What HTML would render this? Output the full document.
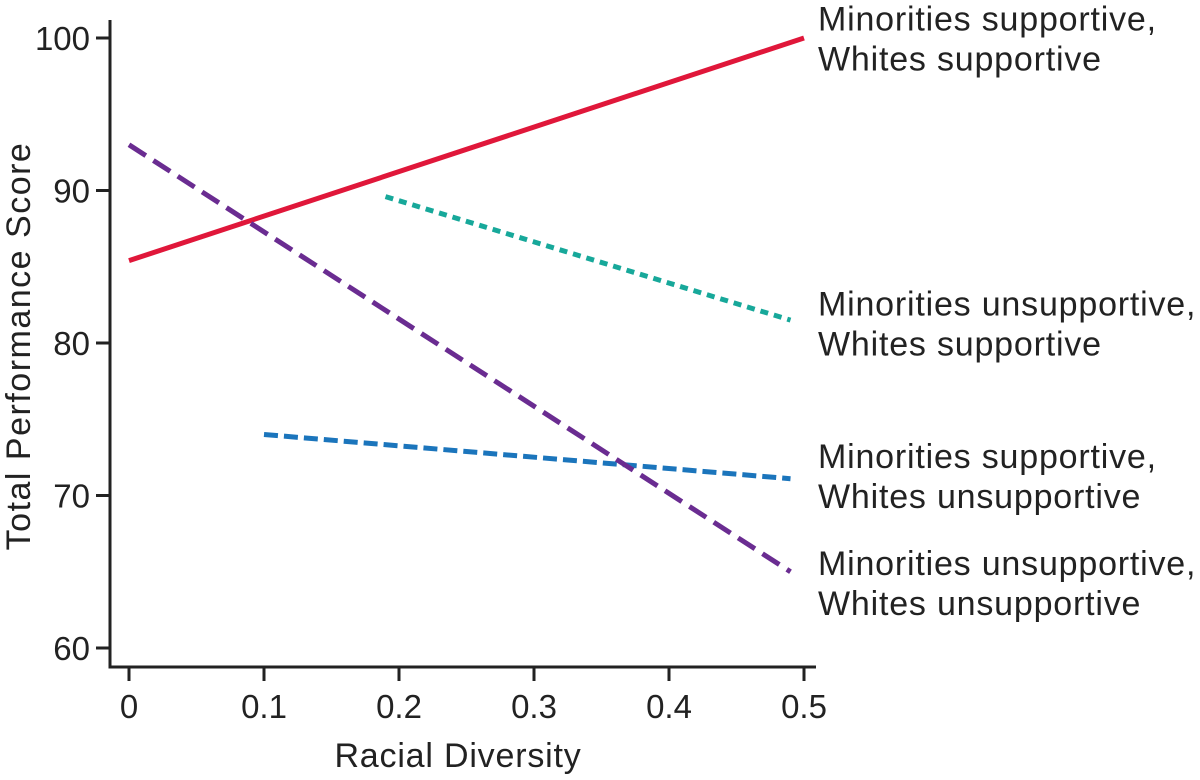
<!DOCTYPE html>
<html><head><meta charset="utf-8"><style>
html,body{margin:0;padding:0;background:#fff;}
svg text{font-family:"Liberation Sans",sans-serif;fill:#222;}
</style></head><body>
<svg id="chart" width="1200" height="775" viewBox="0 0 1200 775" xmlns="http://www.w3.org/2000/svg">
<g id="axes"></g><g id="series"></g><g id="labels"></g>
</svg>
<script>
const xTicks=[0,0.1,0.2,0.3,0.4,0.5];
const xTickLabels=["0","0.1","0.2","0.3","0.4","0.5"];
const yTicks=[60,70,80,90,100];
const yTickLabels=["60","70","80","90","100"];
const seriesNames=["ms-ws","mu-ws","ms-wu","mu-wu"];
const redX=[0,0.5], redY=[85.4,100];
const tealX=[0.19,0.49], tealY=[89.6,81.5];
const blueX=[0.1,0.49], blueY=[74,71.1];
const purpleX=[0,0.49], purpleY=[93,65];
const legendLines=[["Minorities supportive,","Whites supportive"],["Minorities unsupportive,","Whites supportive"],["Minorities supportive,","Whites unsupportive"],["Minorities unsupportive,","Whites unsupportive"]];
const legendY=[99.9,81.2,71.2,64.2];

const NS="http://www.w3.org/2000/svg";
const X=v=>129+v*1350;
const Y=v=>648-(v-60)*15.25;
function mk(tag,attrs,parent){const e=document.createElementNS(NS,tag);for(const k in attrs)e.setAttribute(k,attrs[k]);document.getElementById(parent).appendChild(e);return e;}
let e;
e=mk("line",{x1:110,y1:20,x2:110,y2:668,stroke:"#222","stroke-width":3},"axes");


e=mk("line",{x1:108.5,y1:667,x2:816,y2:667,stroke:"#222","stroke-width":3},"axes");


xTicks.forEach((t,i)=>{
 e=mk("line",{x1:X(t),y1:667,x2:X(t),y2:681,stroke:"#222","stroke-width":3},"axes");
 
 
 e=mk("text",{x:X(t),y:718,"font-size":33,"text-anchor":"middle"},"axes");e.textContent=xTickLabels[i];
 
 
});
yTicks.forEach((t,i)=>{
 e=mk("line",{x1:96,y1:Y(t),x2:110,y2:Y(t),stroke:"#222","stroke-width":3},"axes");
 
 
 e=mk("text",{x:90,y:Y(t)+12,"font-size":33,"text-anchor":"end"},"axes");e.textContent=yTickLabels[i];
 
 
});
e=mk("text",{x:458,y:767,"font-size":34,"letter-spacing":0.8,"text-anchor":"middle"},"axes");e.textContent="Racial Diversity";


e=mk("text",{x:0,y:0,"font-size":34,"letter-spacing":1.5,"text-anchor":"middle",transform:"translate(30,346) rotate(-90)"},"axes");e.textContent="Total Performance Score";


const series=[[redX,redY,"#e0173a",""],[tealX,tealY,"#17a89a","8 6"],[blueX,blueY,"#1b75bc","14 6"],[purpleX,purpleY,"#6a2c91","20 9"]];
series.forEach((s,i)=>{
 e=mk("line",{x1:X(s[0][0]),y1:Y(s[1][0]),x2:X(s[0][1]),y2:Y(s[1][1]),stroke:s[2],"stroke-width":5,"stroke-dasharray":s[3]},"series");
 
 
});
legendLines.forEach((l,i)=>{
 const y0=Y(legendY[i]);
 e=mk("text",{x:818,y:y0-9,"font-size":34,"letter-spacing":0.8},"labels");
 
 
 const a=document.createElementNS(NS,"tspan");a.setAttribute("x",818);a.textContent=l[0];e.appendChild(a);
 const b=document.createElementNS(NS,"tspan");b.setAttribute("x",818);b.setAttribute("dy",40);b.textContent=l[1];e.appendChild(b);
});
</script>
</body></html>
